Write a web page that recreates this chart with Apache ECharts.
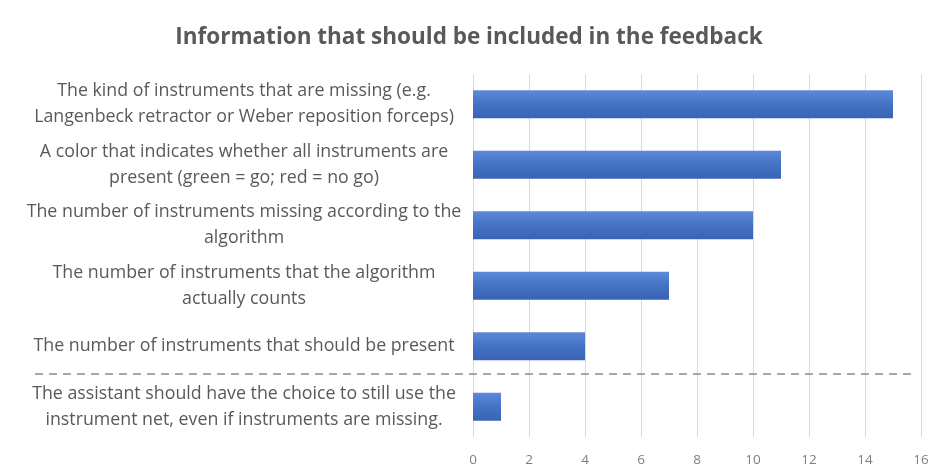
<!DOCTYPE html>
<html>
<head>
<meta charset="utf-8">
<script src="https://cdn.jsdelivr.net/npm/echarts@6/dist/echarts.min.js"></script>
<style>
  html, body { margin: 0; padding: 0; background: #fff; }
  #container { width: 938px; height: 474px; }
</style>
</head>
<body>
<div id="container"></div>
<script>
var titleText = 'Information that should be included in the feedback';
var categories = [
    'The kind of instruments that are missing (e.g.\nLangenbeck retractor or Weber reposition forceps)',
    'A color that indicates whether all instruments are\npresent (green = go; red = no go)',
    'The number of instruments missing according to the\nalgorithm',
    'The number of instruments that the algorithm\nactually counts',
    'The number of instruments that should be present',
    'The assistant should have the choice to still use the\ninstrument net, even if instruments are missing.'
];
var counts = [15, 11, 10, 7, 4, 1];
var xTicks = { min: 0, max: 16, step: 2 };

var dom = document.getElementById('container');
var myChart = echarts.init(dom);
var font = '"Open Sans", "Noto Sans", sans-serif';

var option = {
    backgroundColor: '#fff',
    animation: false,
    title: {
        text: titleText,
        left: 'center',
        top: 21,
        textStyle: {
            color: '#595959',
            fontSize: 22.5,
            fontWeight: 'bold',
            fontFamily: font
        }
    },
    grid: { left: 473, right: 17, top: 74, bottom: 37 },
    xAxis: {
        type: 'value',
        min: xTicks.min,
        max: xTicks.max,
        interval: xTicks.step,
        axisLine: { show: false },
        axisTick: { show: false },
        axisLabel: { color: '#7f7f7f', fontSize: 13.5, fontFamily: font, margin: 16 },
        splitLine: { lineStyle: { color: '#d9d9d9', width: 1 } }
    },
    yAxis: {
        type: 'category',
        inverse: true,
        data: categories,
        axisLine: { show: false },
        axisTick: { show: false },
        axisLabel: {
            margin: 9,
            formatter: function (value) {
                return value.split('\n').map(function (s) { return '{c|' + s + '}'; }).join('\n');
            },
            rich: {
                c: {
                    width: 440,
                    align: 'center',
                    color: '#595959',
                    fontSize: 17.8,
                    lineHeight: 26,
                    fontFamily: font
                }
            }
        }
    },
    series: [{
        type: 'bar',
        data: counts,
        barCategoryGap: '54%',
        itemStyle: {
            color: new echarts.graphic.LinearGradient(0, 0, 0, 1, [
                { offset: 0, color: '#5d89d8' },
                { offset: 0.5, color: '#4472c4' },
                { offset: 1, color: '#3a63b6' }
            ]),
            shadowBlur: 3,
            shadowOffsetX: 1,
            shadowOffsetY: 1,
            shadowColor: 'rgba(0,0,0,0.3)'
        }
    }]
};
myChart.setOption(option, true);

// dashed separator between the last two categories
var yA = myChart.convertToPixel({ yAxisIndex: 0 }, categories[4]);
var yB = myChart.convertToPixel({ yAxisIndex: 0 }, categories[5]);
var ySep = Math.round((yA + yB) / 2) - 3;
myChart.setOption({
    graphic: [{
        type: 'line',
        shape: { x1: 35, y1: ySep, x2: 915, y2: ySep },
        style: { stroke: '#8c8c8c', lineWidth: 1.5, lineDash: [8, 6] },
        z: 10
    }]
});
</script>
</body>
</html>
